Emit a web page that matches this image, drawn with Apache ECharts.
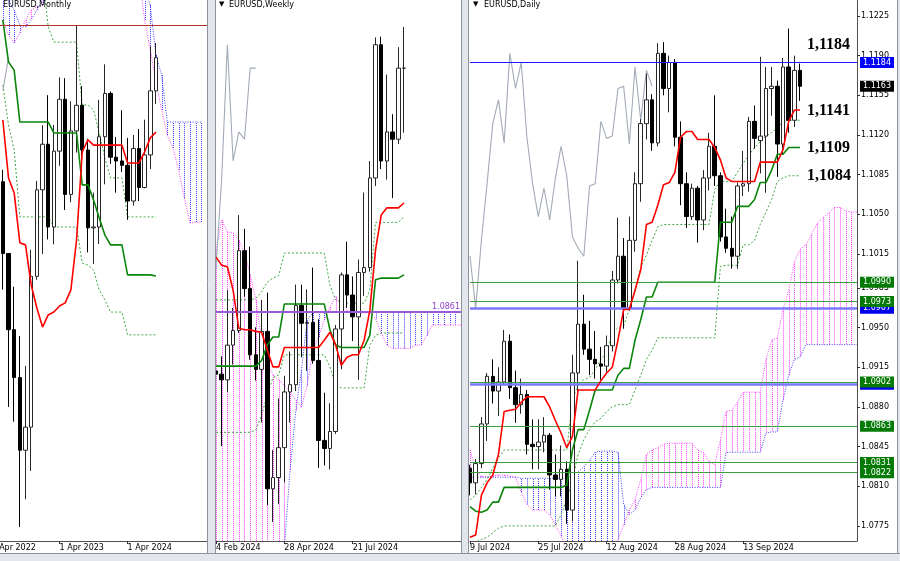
<!DOCTYPE html>
<html><head><meta charset="utf-8">
<script src="https://cdn.jsdelivr.net/npm/echarts@6.0.0/dist/echarts.min.js"></script>
<style>html,body{margin:0;padding:0;background:#fff;}#c{width:900px;height:561px;}</style>
</head><body><div id="c"></div>
<script>
// ================= MONTHLY (first visible bar: Jun 2022) =================
const mDates = ['1 Jun 2022','1 Jul 2022','1 Aug 2022','1 Sep 2022','1 Oct 2022','1 Nov 2022','1 Dec 2022','1 Jan 2023','1 Feb 2023','1 Mar 2023','1 Apr 2023','1 May 2023','1 Jun 2023','1 Jul 2023','1 Aug 2023','1 Sep 2023','1 Oct 2023','1 Nov 2023','1 Dec 2023','1 Jan 2024','1 Feb 2024','1 Mar 2024','1 Apr 2024','1 May 2024','1 Jun 2024','1 Jul 2024','1 Aug 2024','1 Sep 2024'];
const mFuture = ['1 Oct 2024','1 Nov 2024','1 Dec 2024','1 Jan 2025','1 Feb 2025','1 Mar 2025','1 Apr 2025','1 May 2025','1 Jun 2025'];
const mLabelIdx = [10,22];
const mHiddenLabel = '1 Apr 2022';   // tick two months left of the first visible bar
const mOpen  = [1.0733,1.0484,1.0220,1.0054,0.9802,0.9882,1.0405,1.0705,1.0863,1.0576,1.0839,1.1019,1.0689,1.0909,1.0998,1.0843,1.0573,1.0576,1.0889,1.1039,1.0818,1.0805,1.0790,1.0666,1.0848,1.0713,1.0826,1.1048];
const mHigh  = [1.0774,1.0486,1.0369,1.0198,1.0094,1.0497,1.0736,1.0929,1.1033,1.0930,1.1095,1.1092,1.1012,1.1276,1.1065,1.0882,1.0695,1.1017,1.1140,1.1046,1.0888,1.0981,1.0885,1.0895,1.0916,1.0948,1.1202,1.1214];
const mLow   = [1.0359,0.9952,0.9901,0.9536,0.9632,0.9730,1.0393,1.0482,1.0533,1.0516,1.0788,1.0635,1.0662,1.0834,1.0766,1.0488,1.0448,1.0517,1.0724,1.0795,1.0695,1.0767,1.0601,1.0650,1.0666,1.0710,1.0777,1.1002];
const mClose = [1.0484,1.0220,1.0054,0.9802,0.9882,1.0405,1.0705,1.0863,1.0576,1.0839,1.1019,1.0689,1.0909,1.0998,1.0843,1.0573,1.0576,1.0889,1.1039,1.0818,1.0805,1.0790,1.0666,1.0848,1.0713,1.0826,1.1048,1.1163];
const mTenkan = [1.0947,1.0746,1.0694,1.0521,1.0514,1.0375,1.0295,1.0229,1.0271,1.0281,1.0302,1.0313,1.0358,1.0531,1.0836,1.0878,1.0860,1.0860,1.0860,1.0860,1.0860,1.0860,1.0798,1.0798,1.0798,1.0836,1.0885,1.0905];
const mKijun = [1.1294,1.1148,1.1120,1.0940,1.0940,1.0940,1.0940,1.0940,1.0940,1.0902,1.0902,1.0902,1.0902,1.0902,1.0722,1.0722,1.0670,1.0607,1.0548,1.0514,1.0514,1.0514,1.0410,1.0410,1.0410,1.0410,1.0410,1.0406];
const mUpper = [1.1450,1.1450,1.1450,1.1450,1.1450,1.1450,1.1450,1.1450,1.1270,1.1217,1.1217,1.1217,1.1217,1.1217,1.0999,1.0999,1.0982,1.0902,1.0815,1.0746,1.0746,1.0746,1.0611,1.0611,1.0611,1.0611,1.0611,1.0611];
const mLower = [1.1068,1.0930,1.0843,1.0611,1.0611,1.0611,1.0611,1.0611,1.0611,1.0576,1.0576,1.0576,1.0576,1.0576,1.0451,1.0444,1.0427,1.0358,1.0323,1.0281,1.0281,1.0281,1.0202,1.0202,1.0202,1.0202,1.0202,1.0202];
const mSpanA = [1.1294,1.1242,1.1214,1.1249,1.1294,1.1328,1.1339,1.1346,1.1450,1.1450,1.1450,1.1450,1.1450,1.1450,1.1450,1.1450,1.1450,1.1450,1.1450,1.1450,1.1450,1.1450,1.1450,1.1450,1.1450,1.1294,1.1190,1.1079,1.0982,1.0895,1.0850,1.0774,1.0677,1.0590,1.0593,1.0593,null];
const mSpanB = [1.1398,1.1363,1.1328,1.1276,1.1270,1.1294,1.1328,1.1363,1.1500,1.1500,1.1500,1.1500,1.1500,1.1500,1.1500,1.1500,1.1500,1.1500,1.1500,1.1500,1.1500,1.1500,1.1500,1.1500,1.1500,1.1398,1.1346,1.1172,1.1103,1.0940,1.0940,1.0940,1.0940,1.0940,1.0940,1.0940,null];
const mLevel = 1.1276;

// ================= WEEKLY =================
const wDates = ['4 Feb 2024','11 Feb 2024','18 Feb 2024','25 Feb 2024','3 Mar 2024','10 Mar 2024','17 Mar 2024','24 Mar 2024','31 Mar 2024','7 Apr 2024','14 Apr 2024','21 Apr 2024','28 Apr 2024','5 May 2024','12 May 2024','19 May 2024','26 May 2024','2 Jun 2024','9 Jun 2024','16 Jun 2024','23 Jun 2024','30 Jun 2024','7 Jul 2024','14 Jul 2024','21 Jul 2024','28 Jul 2024','4 Aug 2024','11 Aug 2024','18 Aug 2024','25 Aug 2024','1 Sep 2024','8 Sep 2024','15 Sep 2024','22 Sep 2024'];
const wFuture = ['29 Sep 2024','6 Oct 2024','13 Oct 2024','20 Oct 2024','27 Oct 2024','3 Nov 2024','10 Nov 2024','17 Nov 2024','24 Nov 2024','1 Dec 2024'];
const wLabelIdx = [0,12,24];
const wOpen  = [1.0788,1.0784,1.0777,1.0820,1.0838,1.0937,1.0890,1.0808,1.0790,1.0837,1.0642,1.0656,1.0693,1.0762,1.0771,1.0869,1.0847,1.0848,1.0801,1.0702,1.0692,1.0713,1.0840,1.0907,1.0882,1.0855,1.0910,1.0916,1.1027,1.1192,1.1048,1.1084,1.1075,1.1163];
const wHigh  = [1.0807,1.0806,1.0888,1.0866,1.0981,1.0964,1.0942,1.0842,1.0876,1.0885,1.0690,1.0754,1.0782,1.0812,1.0895,1.0895,1.0889,1.0916,1.0852,1.0761,1.0748,1.0845,1.0910,1.0948,1.0905,1.0926,1.1009,1.1048,1.1201,1.1202,1.1155,1.1106,1.1189,1.1214];
const wLow   = [1.0722,1.0695,1.0762,1.0796,1.0835,1.0880,1.0802,1.0776,1.0724,1.0622,1.0601,1.0623,1.0650,1.0724,1.0763,1.0805,1.0788,1.0797,1.0668,1.0671,1.0666,1.0710,1.0790,1.0866,1.0825,1.0777,1.0881,1.0911,1.1017,1.1038,1.1025,1.1002,1.1069,1.1083];
const wClose = [1.0784,1.0777,1.0820,1.0838,1.0937,1.0890,1.0808,1.0790,1.0837,1.0642,1.0656,1.0693,1.0762,1.0771,1.0869,1.0847,1.0848,1.0801,1.0702,1.0692,1.0713,1.0840,1.0907,1.0882,1.0855,1.0910,1.0916,1.1027,1.1192,1.1048,1.1084,1.1075,1.1163,1.1163];
const wTenkan = [1.0929,1.0919,1.0917,1.0888,1.0841,1.0839,1.0839,1.0837,1.0836,1.0814,1.0793,1.0793,1.0817,1.0817,1.0817,1.0817,1.0817,1.0817,1.0817,1.0826,1.0836,1.0820,1.0795,1.0805,1.0808,1.0808,1.0826,1.0863,1.0938,1.0981,1.0990,1.0990,1.0990,1.0996];
const wKijun = [1.0794,1.0794,1.0794,1.0794,1.0794,1.0794,1.0794,1.0794,1.0801,1.0820,1.0830,1.0830,1.0871,1.0871,1.0871,1.0871,1.0871,1.0871,1.0871,1.0871,1.0839,1.0820,1.0817,1.0817,1.0817,1.0817,1.0817,1.0832,1.0901,1.0903,1.0903,1.0903,1.0903,1.0907];
const wUpper = [1.0876,1.0876,1.0876,1.0876,1.0876,1.0876,1.0876,1.0878,1.0886,1.0898,1.0903,1.0906,1.0934,1.0934,1.0934,1.0934,1.0934,1.0934,1.0934,1.0934,1.0894,1.0876,1.0872,1.0872,1.0872,1.0872,1.0872,1.0888,1.0972,1.0972,1.0972,1.0972,1.0972,1.0979];
const wLower = [1.0712,1.0712,1.0712,1.0712,1.0712,1.0712,1.0712,1.0715,1.0733,1.0758,1.0780,1.0783,1.0808,1.0808,1.0808,1.0808,1.0808,1.0808,1.0808,1.0808,1.0793,1.0770,1.0767,1.0767,1.0767,1.0767,1.0767,1.0820,1.0832,1.0835,1.0835,1.0835,1.0835,1.0835];
const wSpanA = [1.0938,1.0975,1.0960,1.0959,1.0950,1.0935,1.0907,1.0876,1.0826,1.0798,1.0783,1.0777,1.0770,1.0762,1.0752,1.0743,1.0770,1.0814,1.0830,1.0851,1.0867,1.0880,1.0870,1.0863,1.0857,1.0860,1.0860,1.0860,1.0853,1.0835,1.0820,1.0816,1.0816,1.0816,1.0816,1.0820,1.0820,1.0832,1.0845,1.0845,1.0845,1.0845,1.0845,1.0845];
const wSpanB = [1.0406,1.0406,1.0406,1.0406,1.0406,1.0406,1.0406,1.0406,1.0406,1.0406,1.0406,1.0406,1.0570,1.0665,1.0739,1.0789,1.0851,1.0860,1.0861,1.0861,1.0861,1.0861,1.0861,1.0861,1.0861,1.0861,1.0861,1.0861,1.0861,1.0861,1.0861,1.0861,1.0861,1.0861,1.0861,1.0861,1.0861,1.0861,1.0861,1.0861,1.0861,1.0861,1.0861,1.0861];
const wLevel = 1.0861;

// ================= DAILY =================
const dDates = ['9 Jul 2024','10 Jul 2024','11 Jul 2024','12 Jul 2024','15 Jul 2024','16 Jul 2024','17 Jul 2024','18 Jul 2024','19 Jul 2024','22 Jul 2024','23 Jul 2024','24 Jul 2024','25 Jul 2024','26 Jul 2024','29 Jul 2024','30 Jul 2024','31 Jul 2024','1 Aug 2024','2 Aug 2024','5 Aug 2024','6 Aug 2024','7 Aug 2024','8 Aug 2024','9 Aug 2024','12 Aug 2024','13 Aug 2024','14 Aug 2024','15 Aug 2024','16 Aug 2024','19 Aug 2024','20 Aug 2024','21 Aug 2024','22 Aug 2024','23 Aug 2024','26 Aug 2024','27 Aug 2024','28 Aug 2024','29 Aug 2024','30 Aug 2024','2 Sep 2024','3 Sep 2024','4 Sep 2024','5 Sep 2024','6 Sep 2024','9 Sep 2024','10 Sep 2024','11 Sep 2024','12 Sep 2024','13 Sep 2024','16 Sep 2024','17 Sep 2024','18 Sep 2024','19 Sep 2024','20 Sep 2024','23 Sep 2024','24 Sep 2024','25 Sep 2024','26 Sep 2024','27 Sep 2024'];
const dFuture = ['30 Sep 2024','1 Oct 2024','2 Oct 2024','3 Oct 2024','4 Oct 2024','7 Oct 2024','8 Oct 2024','9 Oct 2024','10 Oct 2024','11 Oct 2024'];
const dLabelIdx = [0,12,24,36,48];
const dOpen  = [1.0826,1.0813,1.0830,1.0865,1.0907,1.0894,1.0902,1.0938,1.0897,1.0882,1.0891,1.0847,1.0845,1.0849,1.0855,1.0820,1.0816,1.0825,1.0789,1.0910,1.0953,1.0931,1.0922,1.0918,1.0916,1.0934,1.0992,1.1013,1.0967,1.1027,1.1077,1.1130,1.1151,1.1113,1.1192,1.1161,1.1184,1.1118,1.1077,1.1048,1.1073,1.1045,1.1082,1.1110,1.1084,1.1030,1.1020,1.1013,1.1075,1.1077,1.1132,1.1115,1.1119,1.1161,1.1163,1.1112,1.1180,1.1133,1.1177];
const dHigh  = [1.0829,1.0834,1.0871,1.0910,1.0922,1.0915,1.0948,1.0944,1.0912,1.0905,1.0895,1.0869,1.0869,1.0871,1.0857,1.0838,1.0846,1.0832,1.0926,1.1009,1.0979,1.0956,1.0947,1.0933,1.0943,1.1000,1.1047,1.1029,1.1048,1.1087,1.1134,1.1174,1.1156,1.1201,1.1202,1.1190,1.1187,1.1132,1.1087,1.1077,1.1075,1.1089,1.1122,1.1155,1.1087,1.1055,1.1048,1.1078,1.1106,1.1136,1.1146,1.1189,1.1180,1.1180,1.1168,1.1188,1.1214,1.1190,1.1183];
const dLow   = [1.0802,1.0803,1.0826,1.0850,1.0883,1.0872,1.0900,1.0887,1.0866,1.0874,1.0838,1.0825,1.0825,1.0840,1.0807,1.0801,1.0801,1.0777,1.0779,1.0891,1.0926,1.0908,1.0905,1.0904,1.0911,1.0929,1.0989,1.0949,1.0965,1.1017,1.1061,1.1116,1.1106,1.1110,1.1155,1.1140,1.1110,1.1058,1.1038,1.1045,1.1025,1.1036,1.1071,1.1075,1.1026,1.1016,1.1002,1.1002,1.1066,1.1070,1.1108,1.1086,1.1069,1.1137,1.1083,1.1103,1.1122,1.1127,1.1150];
const dClose = [1.0813,1.0830,1.0865,1.0907,1.0894,1.0902,1.0938,1.0897,1.0882,1.0891,1.0847,1.0845,1.0849,1.0855,1.0820,1.0816,1.0825,1.0789,1.0910,1.0953,1.0931,1.0922,1.0918,1.0916,1.0934,1.0992,1.1013,1.0967,1.1027,1.1077,1.1130,1.1151,1.1113,1.1192,1.1161,1.1184,1.1118,1.1077,1.1048,1.1073,1.1045,1.1082,1.1110,1.1084,1.1030,1.1020,1.1013,1.1075,1.1077,1.1132,1.1117,1.1119,1.1161,1.1163,1.1112,1.1180,1.1133,1.1177,1.1163];
const dTenkan = [1.0765,1.0767,1.0802,1.0813,1.0820,1.0838,1.0876,1.0877,1.0878,1.0884,1.0889,1.0889,1.0889,1.0889,1.0880,1.0868,1.0857,1.0844,1.0854,1.0895,1.0895,1.0895,1.0895,1.0903,1.0910,1.0915,1.0939,1.0966,1.0966,1.0983,1.1001,1.1041,1.1043,1.1058,1.1076,1.1078,1.1087,1.1118,1.1123,1.1123,1.1116,1.1116,1.1116,1.1109,1.1098,1.1082,1.1079,1.1079,1.1079,1.1079,1.1079,1.1096,1.1096,1.1096,1.1096,1.1107,1.1132,1.1142,1.1142];
const dKijun = [1.0792,1.0788,1.0787,1.0789,1.0796,1.0796,1.0809,1.0809,1.0809,1.0809,1.0809,1.0809,1.0809,1.0809,1.0809,1.0809,1.0809,1.0811,1.0842,1.0860,1.0860,1.0877,1.0895,1.0895,1.0895,1.0895,1.0908,1.0914,1.0914,1.0939,1.0957,1.0977,1.0977,1.0990,1.0990,1.0990,1.0990,1.0990,1.0990,1.0990,1.0990,1.0990,1.0990,1.0990,1.1043,1.1043,1.1043,1.1057,1.1057,1.1057,1.1063,1.1078,1.1078,1.1089,1.1103,1.1103,1.1109,1.1109,1.1109];
const dUpper = [1.0798,1.0802,1.0809,1.0816,1.0826,1.0835,1.0842,1.0842,1.0842,1.0842,1.0842,1.0842,1.0842,1.0842,1.0842,1.0842,1.0842,1.0842,1.0886,1.0900,1.0904,1.0906,1.0913,1.0922,1.0928,1.0945,1.0950,1.0952,1.0966,1.0983,1.1003,1.1014,1.1027,1.1039,1.1041,1.1041,1.1041,1.1041,1.1041,1.1041,1.1041,1.1041,1.1041,1.1072,1.1079,1.1079,1.1079,1.1087,1.1095,1.1102,1.1109,1.1114,1.1119,1.1122,1.1126,1.1132,1.1133,1.1133,1.1133];
const dLower = [1.0758,1.0761,1.0763,1.0765,1.0769,1.0773,1.0775,1.0775,1.0775,1.0775,1.0775,1.0775,1.0775,1.0775,1.0775,1.0775,1.0785,1.0798,1.0816,1.0838,1.0851,1.0860,1.0867,1.0870,1.0876,1.0880,1.0882,1.0882,1.0882,1.0895,1.0908,1.0922,1.0930,1.0941,1.0941,1.0941,1.0941,1.0941,1.0941,1.0941,1.0941,1.0941,1.0941,1.0941,1.1004,1.1005,1.1005,1.1005,1.1023,1.1023,1.1027,1.1041,1.1052,1.1063,1.1079,1.1082,1.1084,1.1084,1.1084];
const dSpanA = [1.0842,1.0825,1.0819,1.0818,1.0819,1.0820,1.0820,1.0819,1.0818,1.0805,1.0794,1.0789,1.0789,1.0789,1.0785,1.0776,1.0766,1.0756,1.0748,1.0745,1.0745,1.0745,1.0745,1.0745,1.0748,1.0754,1.0763,1.0776,1.0789,1.0798,1.0816,1.0838,1.0842,1.0844,1.0847,1.0848,1.0848,1.0848,1.0848,1.0848,1.0842,1.0840,1.0832,1.0829,1.0851,1.0876,1.0877,1.0884,1.0893,1.0893,1.0893,1.0893,1.0922,1.0939,1.0941,1.0966,1.0983,1.1008,1.1019,1.1023,1.1032,1.1042,1.1047,1.1051,1.1056,1.1056,1.1053,1.1052,1.1052];
const dSpanB = [1.0818,1.0818,1.0818,1.0818,1.0818,1.0818,1.0818,1.0818,1.0818,1.0817,1.0817,1.0817,1.0817,1.0817,1.0817,1.0817,1.0817,1.0817,1.0820,1.0823,1.0827,1.0833,1.0840,1.0841,1.0841,1.0841,1.0840,1.0794,1.0785,1.0789,1.0800,1.0807,1.0809,1.0809,1.0809,1.0809,1.0809,1.0809,1.0809,1.0809,1.0809,1.0809,1.0809,1.0809,1.0809,1.0840,1.0840,1.0840,1.0840,1.0840,1.0840,1.0840,1.0857,1.0858,1.0858,1.0886,1.0908,1.0922,1.0924,1.0935,1.0935,1.0935,1.0935,1.0935,1.0935,1.0935,1.0935,1.0935,1.0935];
const dPriceTicks = [1.0775,1.0810,1.0845,1.0880,1.0915,1.0950,1.0985,1.1015,1.1050,1.1085,1.1120,1.1155,1.1190,1.1225];
const dBlueThick = [1.0967,1.0900];
const dGreenLevels = [1.0990,1.0973,1.0902,1.0863,1.0831,1.0822];
const dBlueLevel = 1.1184;
const dLastPrice = 1.1163;
const dBigLabels = [1.1184,1.1141,1.1109,1.1084];

// ================= STYLE =================
const FONT = 'DejaVu Sans';
const PINK = '#ff3cff', BLUE = '#3c3cff';
const RED = '#ff0000', KIJUN = '#0a850a', DOTG = '#3fa83f', CHIKOU = '#a2aab8';

function ohlc(o,h,l,c){ return o.map((v,i)=>[v,c[i],l[i],h[i]]); }
function labelSet(idx){ const s = new Set(idx); return (i)=>s.has(i); }
function xAx(g, cats, idx, gap){
  const f = labelSet(idx);
  return { type:'category', gridIndex:g, data:cats, boundaryGap:gap,
    axisLine:{show:true,onZero:false,lineStyle:{color:'#505050',width:1}},
    axisTick:{show:true,length:3,interval:f,alignWithLabel:true,lineStyle:{color:'#303030'}},
    axisLabel:{show:true,interval:f,align:'left',margin:3,fontSize:8,fontFamily:FONT,color:'#000'},
    splitLine:{show:false}};
}
function lineS(ax, data, color, width, type, z){
  return {type:'line', xAxisIndex:ax, yAxisIndex:ax, data, symbol:'none', showSymbol:false, silent:true,
    lineStyle:{color, width, type}, z, animation:false};
}
function hatchS(ax, a, b){
  return { type:'custom', xAxisIndex:ax, yAxisIndex:ax, silent:true, z:1, animation:false,
    data: a.map((v,i)=>[i, v, b[i]]).filter(d=>d[1]!=null && d[2]!=null),
    encode:{x:0, y:[1,2]},
    renderItem(params, api){
      const cs = params.coordSys;
      const i = api.value(0), va = api.value(1), vb = api.value(2);
      const pa = api.coord([i, va]), pb = api.coord([i, vb]);
      const x = Math.round(pa[0]) + 0.5;
      if (x < cs.x || x > cs.x + cs.width) return null;
      const top = cs.y, bot = cs.y + cs.height;
      const y1 = Math.min(Math.max(pa[1], top), bot), y2 = Math.min(Math.max(pb[1], top), bot);
      if (Math.abs(y2 - y1) < 0.5) return null;
      return { type:'line', shape:{x1:x, y1, x2:x, y2}, style:{stroke: va >= vb ? PINK : BLUE, lineWidth:1, lineDash:[1,1]} };
    }
  };
}
function candleS(ax, data){
  return {type:'candlestick', xAxisIndex:ax, yAxisIndex:ax, data, barWidth:4, silent:true, z:3, animation:false,
    itemStyle:{color:'#ffffff', color0:'#000000', borderColor:'#262626', borderColor0:'#000000', borderWidth:1}};
}
function ichimoku(ax, o,h,l,c, tenkan, kijun, upper, lower, spanA, spanB){
  return [
    hatchS(ax, spanA, spanB),
    lineS(ax, spanA, PINK, 1, [1,1.5], 2),
    lineS(ax, spanB, BLUE, 1, [1,1.5], 2),
    lineS(ax, upper, DOTG, 1, [2,2], 2),
    lineS(ax, lower, DOTG, 1, [2,2], 2),
    lineS(ax, c.slice(26), CHIKOU, 1.1, 'solid', 2),
    candleS(ax, ohlc(o,h,l,c)),
    lineS(ax, kijun, KIJUN, 1.6, 'solid', 4),
    lineS(ax, tenkan, RED, 1.6, 'solid', 5)
  ];
}

const series = [].concat(
  ichimoku(0, mOpen,mHigh,mLow,mClose, mTenkan,mKijun,mUpper,mLower,mSpanA,mSpanB),
  ichimoku(1, wOpen,wHigh,wLow,wClose, wTenkan,wKijun,wUpper,wLower,wSpanA,wSpanB),
  ichimoku(2, dOpen,dHigh,dLow,dClose, dTenkan,dKijun,dUpper,dLower,dSpanA,dSpanB)
);
series[8].markLine = {silent:true, symbol:['none','none'], animation:false, precision:4,
  data:[{yAxis:mLevel, lineStyle:{color:'#b03228', width:1, type:'solid'}, label:{show:false}}]};
series[17].markLine = {silent:true, symbol:['none','none'], animation:false, precision:4,
  data:[{yAxis:wLevel, lineStyle:{color:'#9a5ad8', width:2, type:'solid'},
    label:{show:true, position:'insideEndTop', distance:1, formatter:()=>wLevel.toFixed(4), color:'#9040c8', fontSize:8, fontFamily:FONT}}]};
const tagLabel = {show:true, position:'end', distance:3, formatter:(p)=>Number(p.value).toFixed(4), color:'#fff',
  fontSize:8, fontFamily:FONT, padding:[1,3,0,3], lineHeight:10};
const dMarks = [];
dBlueThick.forEach(v=>dMarks.push({yAxis:v, lineStyle:{color:'#7878ff', width:2.5, type:'solid'}, label:{backgroundColor:'#0000ee'}}));
dGreenLevels.forEach(v=>dMarks.push({yAxis:v, lineStyle:{color:'#3c9e3c', width:1.2, type:'solid'}, label:{backgroundColor:'#067a06'}}));
dMarks.push({yAxis:dBlueLevel, lineStyle:{color:'#1a1aff', width:1, type:'solid'}, label:{backgroundColor:'#0000ff'}});
dMarks.push({yAxis:dLastPrice, lineStyle:{color:'rgba(0,0,0,0)', width:0}, label:{backgroundColor:'#000000', color:'#ffffff', opacity:1}});
series[26].markLine = {silent:true, symbol:['none','none'], animation:false, precision:4, label:tagLabel, data:dMarks};

const option = {
  animation:false,
  backgroundColor:'#ffffff',
  textStyle:{fontFamily:FONT},
  grid:[
    {left:0, top:0, width:209.8, height:541},
    {left:216, top:0, width:245, height:541},
    {left:470, top:0, width:387, height:541}
  ],
  xAxis:[ xAx(0, mDates.concat(mFuture), mLabelIdx, true), xAx(1, wDates.concat(wFuture), wLabelIdx, false), xAx(2, dDates.concat(dFuture), dLabelIdx, false) ],
  yAxis:[
    {type:'value', gridIndex:0, min:0.94872, max:1.13631, show:false},
    {type:'value', gridIndex:1, min:1.05774, max:1.12474, show:false},
    {type:'value', gridIndex:2, min:1.07617, max:1.12391, position:'right',
      axisLine:{show:true, lineStyle:{color:'#505050'}},
      axisTick:{show:true, length:3, customValues:dPriceTicks, lineStyle:{color:'#303030'}},
      axisLabel:{show:true, customValues:dPriceTicks, formatter:(v)=>Number(v).toFixed(4), fontSize:8, margin:4, fontFamily:FONT, color:'#000'},
      splitLine:{show:false}}
  ],
  series
};

const chart = echarts.init(document.getElementById('c'), null, {width:900, height:561});
chart.setOption(option);

// monthly tick that sits left of the first visible bar (two bars before index 0)
const mx0 = chart.convertToPixel({xAxisIndex:0}, mDates[0]);
const mx1 = chart.convertToPixel({xAxisIndex:0}, mDates[1]);
const mHiddenX = mx0 - 2 * (mx1 - mx0);

const sep = {fill:'#e3e7ed', stroke:'#8b929b', lineWidth:1};
const gfx = [
  {type:'text', silent:true, z:50, x:mHiddenX, y:544, style:{text:mHiddenLabel, font:'8px "DejaVu Sans"', fill:'#000'}},
  {type:'rect', silent:true, z:100, shape:{x:207.5, y:-2, width:8, height:566}, style:sep},
  {type:'rect', silent:true, z:100, shape:{x:461.5, y:-2, width:7, height:566}, style:sep},
  {type:'rect', silent:true, z:100, shape:{x:897.5, y:-2, width:5, height:566}, style:sep},
  {type:'rect', silent:true, z:100, shape:{x:-2, y:553.5, width:904, height:10}, style:sep},
  {type:'text', silent:true, z:101, x:3, y:1, style:{text:'EURUSD,Monthly', font:'8px "DejaVu Sans"', fill:'#000'}},
  {type:'text', silent:true, z:101, x:219, y:1, style:{text:'\u25BC', font:'7px "DejaVu Sans"', fill:'#000'}},
  {type:'text', silent:true, z:101, x:229, y:1, style:{text:'EURUSD,Weekly', font:'8px "DejaVu Sans"', fill:'#000'}},
  {type:'text', silent:true, z:101, x:473, y:1, style:{text:'\u25BC', font:'7px "DejaVu Sans"', fill:'#000'}},
  {type:'text', silent:true, z:101, x:484, y:1, style:{text:'EURUSD,Daily', font:'8px "DejaVu Sans"', fill:'#000'}}
];
dBigLabels.forEach((v, k)=>{
  const y = chart.convertToPixel({yAxisIndex:2}, v) + (k === 0 ? -18 : 0);
  gfx.push({type:'text', silent:true, z:101, x:807, y:y,
    style:{text:v.toFixed(4).replace('.', ','), font:'bold 16px "Liberation Serif"', fill:'#000', verticalAlign:'middle'}});
});
chart.setOption({graphic:gfx});
</script></body></html>
